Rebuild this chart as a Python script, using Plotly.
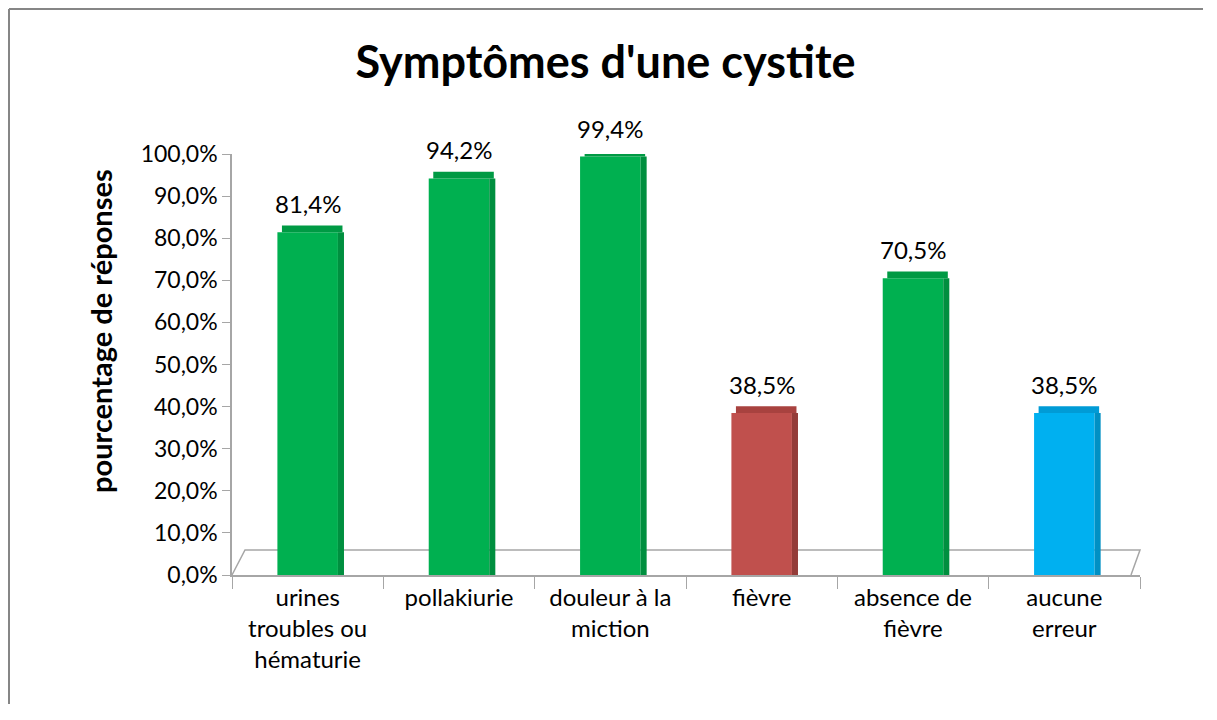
import plotly.graph_objects as go

categories = ["urines<br>troubles ou<br>hématurie", "pollakiurie", "douleur à la<br>miction",
              "fièvre", "absence de<br>fièvre", "aucune<br>erreur"]
values = [81.4, 94.2, 99.4, 38.5, 70.5, 38.5]
colors = ["#00B050", "#00B050", "#00B050", "#C0504D", "#00B050", "#00B0F0"]
side_colors = ["#008F3F", "#008F3F", "#008F3F", "#943C39", "#008F3F", "#0090C4"]
top_colors = ["#009A44", "#009A44", "#009A44", "#A8423F", "#009A44", "#009BD6"]
y_ticks = [0, 10, 20, 30, 40, 50, 60, 70, 80, 90, 100]

FONT = "Lato, Open Sans, sans-serif"
W, H = 1195, 696
L, T, PW, PH = 224, 146, 908, 421
R, B = W - L - PW, H - T - PH
TOP_DEPTH = 1.6  # visual depth of the bar top face, in axis units

fig = go.Figure()
fig.add_trace(go.Bar(
    x=categories, y=values, width=0.40, offset=-0.20,
    marker=dict(color=colors, line=dict(width=0)),
    hoverinfo="skip", showlegend=False,
))
fig.add_trace(go.Bar(
    x=categories, y=values, width=0.04, offset=0.20,
    marker=dict(color=side_colors, line=dict(width=0)),
    hoverinfo="skip", showlegend=False,
))
fig.add_trace(go.Bar(
    x=categories, y=[TOP_DEPTH] * len(values), base=values, width=0.40, offset=-0.17,
    marker=dict(color=top_colors, line=dict(width=0)),
    hoverinfo="skip", showlegend=False,
))

for c, v in zip(categories, values):
    fig.add_annotation(x=c, y=v, xref="x", yref="y", text=f"{v:.1f}%".replace(".", ","),
                       showarrow=False, yanchor="bottom", yshift=12,
                       font=dict(size=24, color="#000000", family=FONT))

fig.update_layout(
    width=W, height=H,
    barmode="overlay",
    paper_bgcolor="white", plot_bgcolor="rgba(0,0,0,0)",
    margin=dict(l=L, r=R, t=T, b=B),
    font=dict(family=FONT, color="#000000"),
    title=dict(text="<b>Symptômes d'une cystite</b>", x=597.5 / W, xanchor="center",
               y=1 - 54 / H, yanchor="middle", font=dict(size=45, family=FONT, color="#000000")),
    showlegend=False,
)
fig.update_yaxes(
    range=[0, 100], tickvals=y_ticks,
    ticktext=[f"{t:.1f}%".replace(".", ",") for t in y_ticks],
    showgrid=False, zeroline=False,
    showline=True, linecolor="#A6A6A6", linewidth=1.5,
    ticks="outside", ticklen=8, tickcolor="#A6A6A6",
    tickfont=dict(size=23, family=FONT),
)
fig.update_xaxes(
    showgrid=False, showline=True, linecolor="#A6A6A6", linewidth=1.5,
    ticks="outside", tickson="boundaries", ticklen=12, tickcolor="#A6A6A6",
    tickfont=dict(size=24, family=FONT),
)
# y-axis title (placed like the original, above the axis centre)
fig.add_annotation(xref="paper", yref="paper", x=(92 - L) / PW, y=(H - B - 323) / PH,
                   text="<b>pourcentage de réponses</b>", textangle=-90, showarrow=False,
                   xanchor="center", yanchor="middle", font=dict(size=29, family=FONT))
# chart border (only top and left edges are inside the picture)
fig.add_shape(type="line", xref="paper", yref="paper",
              x0=-(L - 1) / PW, x1=(PW + R) / PW, y0=(H - B - 1) / PH, y1=(H - B - 1) / PH,
              line=dict(color="#868686", width=2), layer="below")
fig.add_shape(type="line", xref="paper", yref="paper",
              x0=-(L - 1) / PW, x1=-(L - 1) / PW, y0=-B / PH, y1=(H - B - 1) / PH,
              line=dict(color="#868686", width=2), layer="below")
# 3D floor outline
d = 25 / PH
fig.add_shape(type="path", xref="paper", yref="paper",
              path=f"M 0,0 L {13/PW},{d} L 1,{d} L {1-9/PW},0",
              line=dict(color="#A6A6A6", width=1.5), layer="below")

fig.write_html("out.html")
